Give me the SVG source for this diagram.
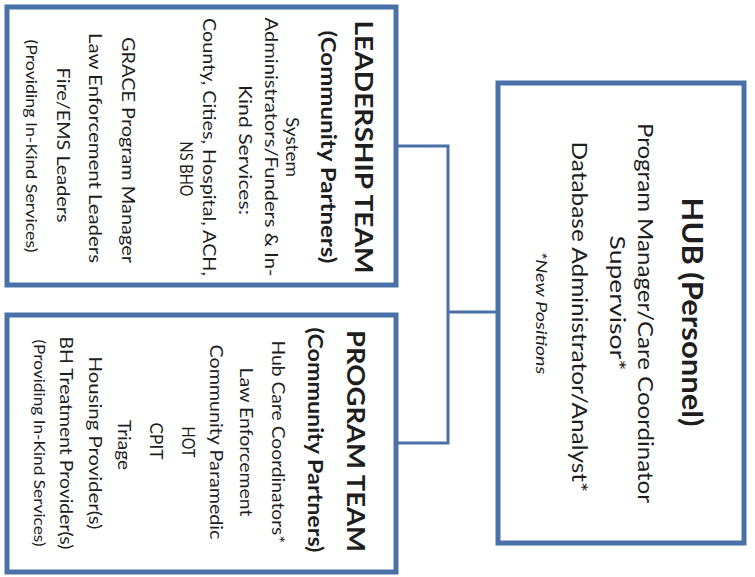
<svg xmlns="http://www.w3.org/2000/svg" width="755" height="577" viewBox="0 0 755 577">
<style>
.box{fill:#ffffff;stroke:#4a70a8;stroke-width:5}
.con{fill:none;stroke:#4a70a8;stroke-width:3}
text{font-family:"Lato","Open Sans","Liberation Sans",sans-serif;fill:#1e1e1e;text-anchor:middle}
.t{font-weight:bold;font-size:25px}
.s{font-weight:bold;font-size:20px}
.b{font-size:17px}
.p{font-size:15px}
.h{font-weight:bold;font-size:28px}
.hb{font-size:21px}
.i{font-style:italic;font-size:15px}
</style>
<rect width="755" height="577" fill="#ffffff"/>
<g id="connectors">
<path class="con" d="M396 146 H448 V443 H396"/>
<path class="con" d="M448 312 H498"/>
</g>
<g id="leadership">
<rect class="box" x="7" y="7" width="389" height="278"/>
<text class="t" x="355" y="147" transform="rotate(90 355 147)" textLength="253" lengthAdjust="spacingAndGlyphs">LEADERSHIP TEAM</text>
<text class="s" x="321" y="147" transform="rotate(90 321 147)" textLength="233" lengthAdjust="spacingAndGlyphs">(Community Partners)</text>
<text class="b" x="286" y="147" transform="rotate(90 286 147)" textLength="60" lengthAdjust="spacingAndGlyphs">System</text>
<text class="b" x="265" y="147" transform="rotate(90 265 147)" textLength="259" lengthAdjust="spacingAndGlyphs">Administrators/Funders &amp; In-</text>
<text class="b" x="239" y="150" transform="rotate(90 239 150)" textLength="130" lengthAdjust="spacingAndGlyphs">Kind Services:</text>
<text class="b" x="203" y="147" transform="rotate(90 203 147)" textLength="258" lengthAdjust="spacingAndGlyphs">County, Cities, Hospital, ACH,</text>
<text class="b" x="180" y="169" transform="rotate(90 180 169)" textLength="55" lengthAdjust="spacingAndGlyphs">NS BHO</text>
<text class="b" x="122" y="150" transform="rotate(90 122 150)" textLength="226" lengthAdjust="spacingAndGlyphs">GRACE Program Manager</text>
<text class="b" x="89" y="148" transform="rotate(90 89 148)" textLength="230" lengthAdjust="spacingAndGlyphs">Law Enforcement Leaders</text>
<text class="b" x="57" y="145" transform="rotate(90 57 145)" textLength="155" lengthAdjust="spacingAndGlyphs">Fire/EMS Leaders</text>
<text class="p" x="26" y="146" transform="rotate(90 26 146)" textLength="213" lengthAdjust="spacingAndGlyphs">(Providing In-Kind Services)</text>
</g>
<g id="program">
<rect class="box" x="7" y="315" width="389" height="257"/>
<text class="t" x="347" y="441" transform="rotate(90 347 441)" textLength="222" lengthAdjust="spacingAndGlyphs">PROGRAM TEAM</text>
<text class="s" x="308" y="440" transform="rotate(90 308 440)" textLength="225" lengthAdjust="spacingAndGlyphs">(Community Partners)</text>
<text class="b" x="272" y="442" transform="rotate(90 272 442)" textLength="203" lengthAdjust="spacingAndGlyphs">Hub Care Coordinators*</text>
<text class="b" x="240" y="442" transform="rotate(90 240 442)" textLength="149" lengthAdjust="spacingAndGlyphs">Law Enforcement</text>
<text class="b" x="210" y="442" transform="rotate(90 210 442)" textLength="195" lengthAdjust="spacingAndGlyphs">Community Paramedic</text>
<text class="b" x="182" y="442" transform="rotate(90 182 442)" textLength="31" lengthAdjust="spacingAndGlyphs">HOT</text>
<text class="b" x="150" y="441" transform="rotate(90 150 441)" textLength="37" lengthAdjust="spacingAndGlyphs">CPIT</text>
<text class="b" x="118" y="445" transform="rotate(90 118 445)" textLength="50" lengthAdjust="spacingAndGlyphs">Triage</text>
<text class="b" x="89" y="443" transform="rotate(90 89 443)" textLength="173" lengthAdjust="spacingAndGlyphs">Housing Provider(s)</text>
<text class="b" x="60" y="443" transform="rotate(90 60 443)" textLength="213" lengthAdjust="spacingAndGlyphs">BH Treatment Provider(s)</text>
<text class="p" x="34" y="443" transform="rotate(90 34 443)" textLength="207" lengthAdjust="spacingAndGlyphs">(Providing In-Kind Services)</text>
</g>
<g id="hub">
<rect class="box" x="498" y="83" width="246" height="460"/>
<text class="h" x="682" y="312" transform="rotate(90 682 312)" textLength="229" lengthAdjust="spacingAndGlyphs">HUB (Personnel)</text>
<text class="hb" x="638" y="313" transform="rotate(90 638 313)" textLength="380" lengthAdjust="spacingAndGlyphs">Program Manager/Care Coordinator</text>
<text class="hb" x="610" y="303" transform="rotate(90 610 303)" textLength="135" lengthAdjust="spacingAndGlyphs">Supervisor*</text>
<text class="hb" x="572" y="317" transform="rotate(90 572 317)" textLength="351" lengthAdjust="spacingAndGlyphs">Database Administrator/Analyst*</text>
<text class="i" x="536" y="313" transform="rotate(90 536 313)" textLength="123" lengthAdjust="spacingAndGlyphs">*New Positions</text>
</g>
</svg>
